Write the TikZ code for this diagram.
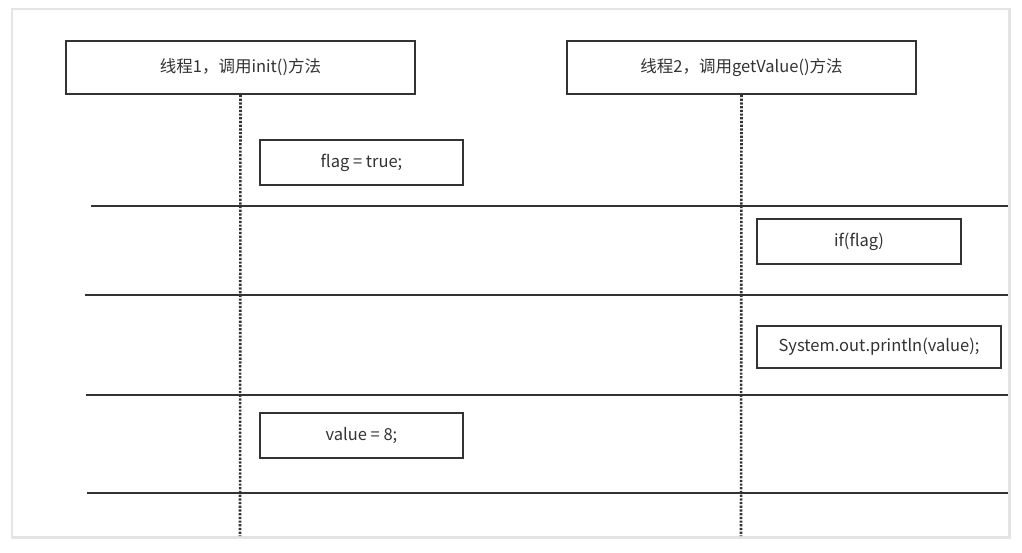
\documentclass[tikz,border=0pt]{standalone}
\usepackage{fontspec}
\setmainfont{Noto Sans CJK SC}
\usepackage{xcolor}
\definecolor{inkgray}{HTML}{333333}
\definecolor{shadowgray}{HTML}{E4E4E4}

\begin{document}
\begin{tikzpicture}[x=1pt,y=-1pt]
\tikzset{stepbox/.style={draw=inkgray,line width=2pt,minimum height=45pt,text=inkgray,font=\fontsize{16.5}{19}\selectfont,inner sep=0pt}}
\tikzset{threadbox/.style={stepbox,minimum width=349pt,minimum height=53pt}}
\tikzset{lifeline/.style={draw=inkgray,line width=2.6pt,dash pattern=on 2.2pt off 1.5pt}}
\tikzset{divider/.style={draw=inkgray,line width=2pt}}

\useasboundingbox (0,0) rectangle (1022,552);
\fill[white] (0,0) rectangle (1022,552);
\fill[shadowgray] (11,8) rectangle (1011,539);
\fill[white] (13,10) rectangle (1008,536);

\node[threadbox] (t1) at (240.5,67.5) {线程1，调用init()方法};
\node[threadbox] (t2) at (741.5,67.5) {线程2，调用getValue()方法};

\coordinate (e1) at (240,536);
\coordinate (e2) at (741,536);
\draw[lifeline] (t1.south) -- (e1);
\draw[lifeline] (t2.south) -- (e2);

\node[stepbox,minimum width=203pt] (flag) at (361.5,162.5) {flag = true;};
\node[stepbox,minimum width=204pt] (if) at (859,241.5) {if(flag)};
\node[stepbox,minimum width=244pt,minimum height=42pt] (print) at (879,347) {System.out.println(value);};
\node[stepbox,minimum width=203pt] (value) at (361.5,435.5) {value = 8;};

\coordinate (a1) at (91,206);  \coordinate (b1) at (1008,206);
\coordinate (a2) at (85,295);  \coordinate (b2) at (1008,295);
\coordinate (a3) at (86,395);  \coordinate (b3) at (1008,395);
\coordinate (a4) at (87,493);  \coordinate (b4) at (1008,493);
\foreach \i in {1,...,4} {\draw[divider] (a\i) -- (b\i);}

\end{tikzpicture}
\end{document}
